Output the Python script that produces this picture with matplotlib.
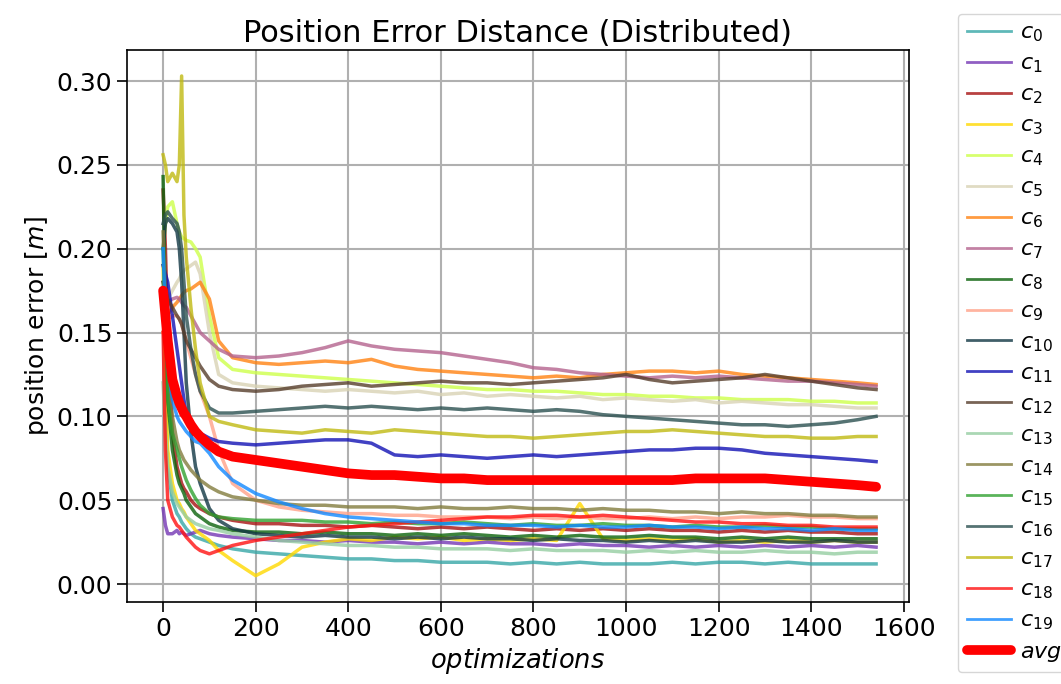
import matplotlib
matplotlib.use("Agg")
import matplotlib.pyplot as plt
import numpy as np

# optimization steps at which the errors are sampled
steps = [0, 5, 10, 20, 30, 35, 40, 45, 50, 60, 70, 80, 100, 120, 150, 200,
         250, 300, 350, 400, 450, 500, 550, 600, 650, 700, 750, 800, 850,
         900, 950, 1000, 1050, 1100, 1150, 1200, 1250, 1300, 1350, 1400,
         1450, 1500, 1540]

c0 = [0.180, 0.110, 0.070, 0.050, 0.042, 0.040, 0.037, 0.035, 0.033, 0.030, 0.028, 0.027, 0.025, 0.023, 0.021, 0.019,
      0.018, 0.017, 0.016, 0.015, 0.015, 0.014, 0.014, 0.013, 0.013, 0.013, 0.012, 0.013, 0.012, 0.013, 0.012, 0.012,
      0.012, 0.013, 0.012, 0.013, 0.013, 0.012, 0.013, 0.012, 0.012, 0.012, 0.012]
c1 = [0.045, 0.035, 0.030, 0.030, 0.032, 0.030, 0.031, 0.030, 0.029, 0.030, 0.031, 0.032, 0.030, 0.029, 0.028, 0.027,
      0.026, 0.026, 0.025, 0.026, 0.025, 0.025, 0.024, 0.025, 0.024, 0.025, 0.024, 0.024, 0.023, 0.024, 0.023, 0.023,
      0.022, 0.023, 0.022, 0.023, 0.022, 0.023, 0.022, 0.023, 0.022, 0.023, 0.022]
c2 = [0.235, 0.200, 0.150, 0.090, 0.070, 0.065, 0.060, 0.057, 0.055, 0.050, 0.047, 0.045, 0.042, 0.040, 0.038, 0.036,
      0.036, 0.035, 0.035, 0.034, 0.035, 0.034, 0.033, 0.034, 0.033, 0.034, 0.033, 0.032, 0.033, 0.032, 0.033, 0.032,
      0.033, 0.032, 0.032, 0.031, 0.032, 0.031, 0.032, 0.031, 0.031, 0.030, 0.030]
c3 = [0.190, 0.120, 0.080, 0.060, 0.050, 0.048, 0.045, 0.043, 0.040, 0.036, 0.032, 0.030, 0.026, 0.020, 0.014, 0.005,
      0.012, 0.022, 0.025, 0.027, 0.026, 0.028, 0.027, 0.028, 0.026, 0.027, 0.026, 0.027, 0.026, 0.048, 0.027, 0.026,
      0.027, 0.026, 0.027, 0.025, 0.026, 0.025, 0.026, 0.025, 0.026, 0.025, 0.025]
c4 = [0.200, 0.215, 0.225, 0.228, 0.215, 0.210, 0.207, 0.206, 0.205, 0.204, 0.200, 0.195, 0.160, 0.135, 0.128, 0.126,
      0.125, 0.124, 0.123, 0.122, 0.121, 0.120, 0.119, 0.118, 0.117, 0.116, 0.116, 0.115, 0.115, 0.114, 0.113, 0.113,
      0.112, 0.112, 0.111, 0.111, 0.110, 0.110, 0.110, 0.109, 0.109, 0.108, 0.108]
c5 = [0.150, 0.160, 0.170, 0.175, 0.180, 0.182, 0.185, 0.187, 0.188, 0.190, 0.192, 0.185, 0.150, 0.125, 0.120, 0.118,
      0.117, 0.116, 0.115, 0.116, 0.115, 0.114, 0.115, 0.113, 0.114, 0.112, 0.113, 0.112, 0.111, 0.112, 0.110, 0.111,
      0.110, 0.109, 0.110, 0.108, 0.109, 0.108, 0.107, 0.107, 0.106, 0.105, 0.105]
c6 = [0.150, 0.155, 0.160, 0.165, 0.168, 0.170, 0.172, 0.174, 0.175, 0.176, 0.178, 0.180, 0.170, 0.145, 0.135, 0.132,
      0.131, 0.132, 0.133, 0.132, 0.134, 0.130, 0.128, 0.127, 0.126, 0.125, 0.124, 0.123, 0.124, 0.123, 0.125, 0.126,
      0.127, 0.127, 0.126, 0.127, 0.125, 0.124, 0.123, 0.122, 0.121, 0.120, 0.119]
c7 = [0.160, 0.165, 0.168, 0.170, 0.171, 0.170, 0.168, 0.166, 0.165, 0.160, 0.155, 0.150, 0.145, 0.140, 0.136, 0.135,
      0.136, 0.138, 0.141, 0.145, 0.142, 0.140, 0.139, 0.138, 0.136, 0.134, 0.132, 0.129, 0.128, 0.126, 0.125, 0.124,
      0.123, 0.124, 0.123, 0.124, 0.123, 0.122, 0.121, 0.121, 0.120, 0.119, 0.118]
c8 = [0.243, 0.160, 0.110, 0.080, 0.065, 0.060, 0.057, 0.054, 0.050, 0.046, 0.042, 0.040, 0.036, 0.034, 0.032, 0.031,
      0.031, 0.030, 0.031, 0.030, 0.030, 0.029, 0.030, 0.029, 0.030, 0.029, 0.028, 0.029, 0.028, 0.029, 0.028, 0.028,
      0.029, 0.028, 0.028, 0.027, 0.028, 0.027, 0.028, 0.027, 0.027, 0.027, 0.027]
c9 = [0.150, 0.155, 0.158, 0.160, 0.160, 0.158, 0.155, 0.150, 0.145, 0.135, 0.125, 0.115, 0.100, 0.080, 0.060, 0.050,
      0.046, 0.044, 0.043, 0.042, 0.042, 0.041, 0.041, 0.040, 0.040, 0.040, 0.039, 0.040, 0.039, 0.040, 0.039, 0.039,
      0.040, 0.039, 0.040, 0.039, 0.040, 0.040, 0.041, 0.040, 0.040, 0.039, 0.039]
c10 = [0.200, 0.215, 0.218, 0.215, 0.210, 0.200, 0.180, 0.150, 0.120, 0.090, 0.070, 0.060, 0.045, 0.038, 0.033, 0.030,
       0.029, 0.028, 0.029, 0.028, 0.028, 0.027, 0.028, 0.027, 0.028, 0.027, 0.027, 0.026, 0.027, 0.026, 0.026, 0.025,
       0.026, 0.025, 0.026, 0.025, 0.025, 0.026, 0.025, 0.025, 0.026, 0.025, 0.025]
c11 = [0.190, 0.185, 0.180, 0.160, 0.140, 0.130, 0.120, 0.110, 0.100, 0.095, 0.092, 0.090, 0.087, 0.085, 0.084, 0.083,
       0.084, 0.085, 0.086, 0.086, 0.084, 0.077, 0.076, 0.077, 0.076, 0.075, 0.076, 0.077, 0.076, 0.077, 0.078, 0.079,
       0.080, 0.080, 0.081, 0.081, 0.080, 0.078, 0.077, 0.076, 0.075, 0.074, 0.073]
c12 = [0.180, 0.175, 0.170, 0.165, 0.160, 0.158, 0.155, 0.150, 0.145, 0.140, 0.135, 0.130, 0.122, 0.118, 0.116, 0.115,
       0.116, 0.118, 0.119, 0.120, 0.118, 0.119, 0.120, 0.121, 0.120, 0.120, 0.119, 0.120, 0.121, 0.122, 0.123, 0.125,
       0.122, 0.120, 0.121, 0.122, 0.123, 0.125, 0.123, 0.121, 0.119, 0.117, 0.116]
c13 = [0.120, 0.090, 0.070, 0.055, 0.048, 0.046, 0.044, 0.042, 0.040, 0.038, 0.036, 0.035, 0.033, 0.032, 0.030, 0.028,
       0.026, 0.025, 0.024, 0.023, 0.023, 0.022, 0.022, 0.021, 0.021, 0.021, 0.020, 0.021, 0.020, 0.020, 0.020, 0.019,
       0.020, 0.019, 0.020, 0.019, 0.019, 0.020, 0.019, 0.019, 0.018, 0.019, 0.019]
c14 = [0.210, 0.170, 0.130, 0.100, 0.085, 0.080, 0.077, 0.074, 0.072, 0.068, 0.065, 0.062, 0.058, 0.055, 0.052, 0.050,
       0.048, 0.047, 0.047, 0.046, 0.046, 0.046, 0.045, 0.046, 0.045, 0.045, 0.046, 0.045, 0.045, 0.044, 0.045, 0.044,
       0.044, 0.043, 0.043, 0.042, 0.043, 0.042, 0.042, 0.041, 0.041, 0.040, 0.040]
c15 = [0.200, 0.150, 0.110, 0.090, 0.080, 0.075, 0.070, 0.066, 0.062, 0.056, 0.051, 0.047, 0.042, 0.040, 0.039, 0.038,
       0.038, 0.038, 0.037, 0.037, 0.036, 0.037, 0.036, 0.036, 0.037, 0.036, 0.035, 0.036, 0.035, 0.035, 0.036, 0.035,
       0.035, 0.034, 0.035, 0.034, 0.034, 0.035, 0.034, 0.034, 0.033, 0.033, 0.033]
c16 = [0.215, 0.220, 0.222, 0.218, 0.215, 0.210, 0.200, 0.180, 0.160, 0.140, 0.125, 0.115, 0.105, 0.102, 0.102, 0.103,
       0.104, 0.105, 0.106, 0.105, 0.106, 0.105, 0.104, 0.105, 0.104, 0.105, 0.104, 0.103, 0.104, 0.103, 0.101, 0.100,
       0.099, 0.098, 0.097, 0.096, 0.095, 0.095, 0.094, 0.095, 0.096, 0.098, 0.100]
c17 = [0.256, 0.250, 0.240, 0.245, 0.240, 0.250, 0.303, 0.220, 0.195, 0.165, 0.140, 0.120, 0.100, 0.097, 0.095, 0.092,
       0.091, 0.090, 0.092, 0.091, 0.090, 0.092, 0.091, 0.090, 0.089, 0.088, 0.088, 0.087, 0.088, 0.089, 0.090, 0.091,
       0.091, 0.092, 0.091, 0.090, 0.089, 0.088, 0.088, 0.087, 0.087, 0.088, 0.088]
c18 = [0.150, 0.080, 0.050, 0.040, 0.035, 0.034, 0.032, 0.030, 0.028, 0.025, 0.022, 0.020, 0.018, 0.020, 0.023, 0.026,
       0.028, 0.030, 0.032, 0.034, 0.035, 0.036, 0.037, 0.038, 0.039, 0.040, 0.040, 0.041, 0.041, 0.040, 0.041, 0.040,
       0.039, 0.038, 0.037, 0.037, 0.036, 0.036, 0.035, 0.035, 0.034, 0.034, 0.034]
c19 = [0.200, 0.160, 0.130, 0.110, 0.100, 0.097, 0.095, 0.093, 0.091, 0.088, 0.085, 0.084, 0.078, 0.070, 0.062, 0.054,
       0.049, 0.045, 0.042, 0.040, 0.039, 0.038, 0.037, 0.036, 0.036, 0.035, 0.035, 0.035, 0.034, 0.035, 0.034, 0.034,
       0.035, 0.034, 0.034, 0.033, 0.034, 0.033, 0.033, 0.032, 0.033, 0.032, 0.032]
avg = [0.175, 0.160, 0.145, 0.122, 0.112, 0.108, 0.105, 0.102, 0.100, 0.095, 0.091, 0.088, 0.083, 0.079, 0.076, 0.074,
       0.072, 0.070, 0.068, 0.066, 0.065, 0.065, 0.064, 0.063, 0.063, 0.062, 0.062, 0.062, 0.062, 0.062, 0.062, 0.062,
       0.062, 0.062, 0.063, 0.063, 0.063, 0.063, 0.062, 0.061, 0.060, 0.059, 0.058]

series = [c0, c1, c2, c3, c4, c5, c6, c7, c8, c9,
          c10, c11, c12, c13, c14, c15, c16, c17, c18, c19]

colors = ["#37a7a7", "#7537b4", "#a71111", "#ffd900", "#cdff4a",
          "#d9d3b4", "#ff8211", "#b4638e", "#0b630b", "#ffa188",
          "#113743", "#1111b4", "#563d2b", "#95cda1", "#827c3d",
          "#31a131", "#2b5050", "#c0ba11", "#ff1111", "#1188ff"]

fig = plt.figure(figsize=(10.61, 6.84), dpi=100)
ax = fig.add_axes([0.1197, 0.1199, 0.737, 0.807])

handles = []
for i, (vals, col) in enumerate(zip(series, colors)):
    h, = ax.plot(steps, vals, color=col, alpha=0.8, lw=2.5,
                 label=r"$c_{%d}$" % i)
    handles.append(h)
h_avg, = ax.plot(steps, avg, color="#ff0000", lw=7, label=r"$avg$",
                 solid_capstyle="round", zorder=5)
handles.append(h_avg)

ax.set_xlim(-78, 1611)
ax.set_ylim(-0.0107, 0.3185)
ax.set_xticks(np.arange(0, 1601, 200))
ax.set_yticks(np.arange(0, 0.301, 0.05))
ax.grid(True, color="#b0b0b0", lw=1.5)
ax.set_axisbelow(True)
ax.tick_params(labelsize=18, length=7, width=1.2)
for sp in ax.spines.values():
    sp.set_linewidth(1.2)

ax.set_title("Position Error Distance (Distributed)", fontsize=22)
ax.set_xlabel(r"$optimizations$", fontsize=18.5)
ax.set_ylabel(r"position error [$m$]", fontsize=18)

leg = fig.legend(handles=handles, loc="upper left",
                 bbox_to_anchor=(958 / 1061, 1 - 14 / 684), borderaxespad=0,
                 fontsize=16, handlelength=2.0, handletextpad=0.4,
                 labelspacing=0.42, borderpad=0.4)
for lh in leg.get_lines()[:-1]:
    lh.set_linewidth(2.0)

fig.savefig("out.png", dpi=100)
